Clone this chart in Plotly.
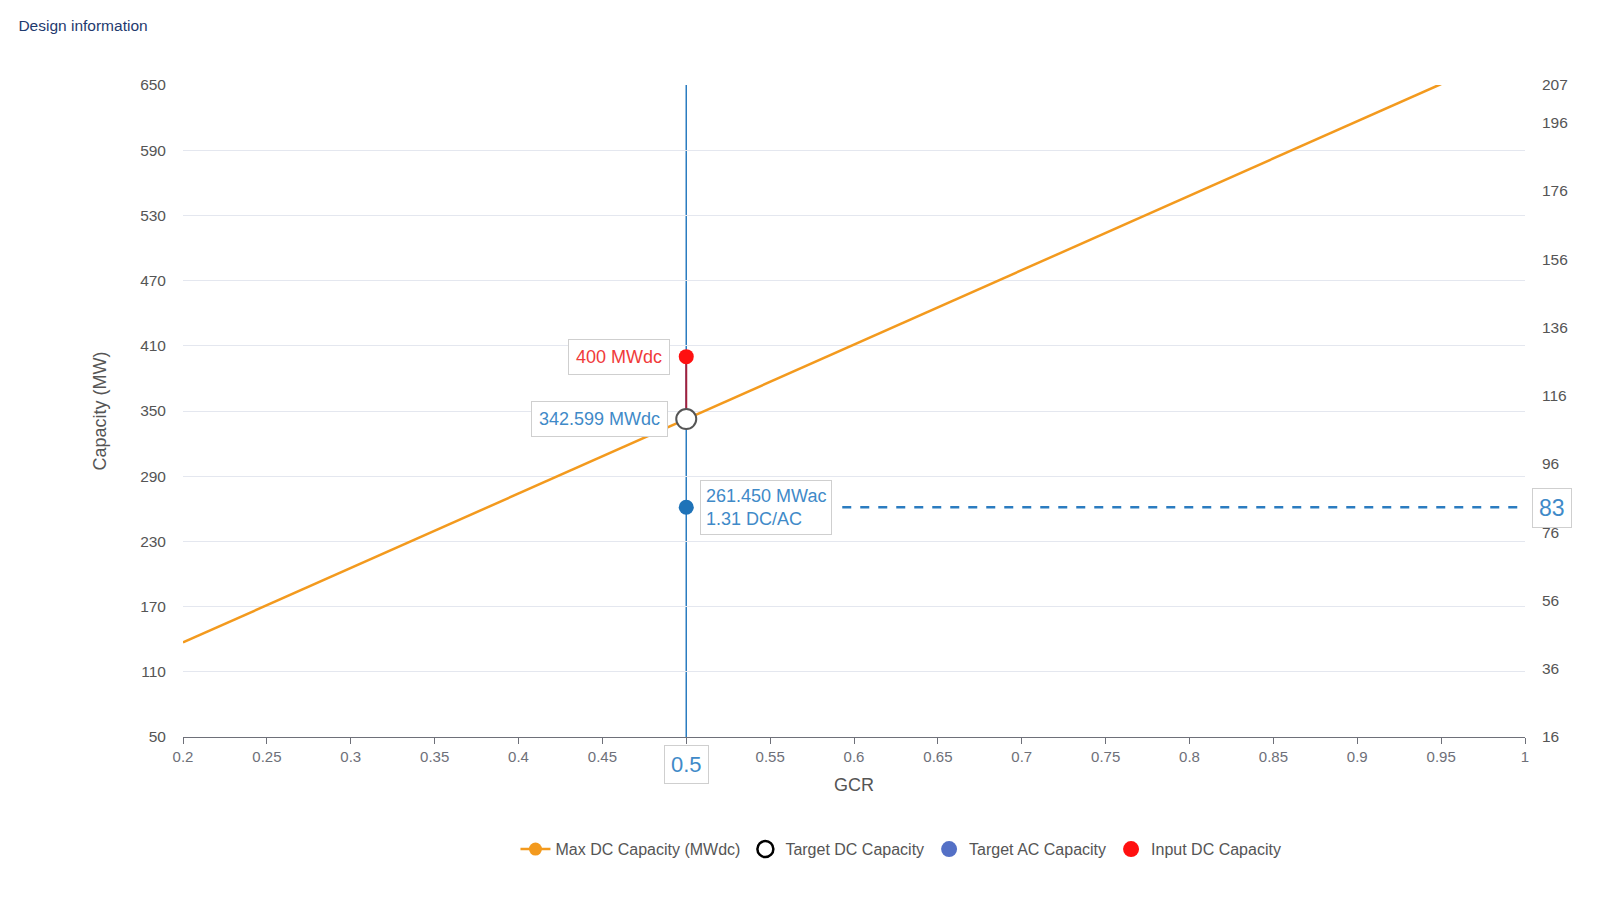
import plotly.graph_objects as go

# GCR sweep and the max DC capacity
gcr = [0.2, 0.3, 0.4, 0.5, 0.6, 0.7, 0.8, 0.9, 0.95]
max_dc = [137.0, 205.6, 274.1, 342.6, 411.1, 479.6, 548.2, 616.7, 650.9]

# design point
target_gcr = 0.5
input_dc = 400
target_dc = 342.599
target_ac = 261.450
dc_ac_ratio = 1.31
inverters = 83
dash_start = 0.593   # dashed guide starts just right of the AC label

left_ticks = [50, 110, 170, 230, 290, 350, 410, 470, 530, 590, 650]
right_ticks = [16, 36, 56, 76, 96, 116, 136, 156, 176, 196, 207]
x_ticks = [0.2, 0.25, 0.3, 0.35, 0.4, 0.45, 0.5, 0.55, 0.6, 0.65, 0.7,
           0.75, 0.8, 0.85, 0.9, 0.95, 1.0]
# 0.5 is drawn in its own highlighted box instead
x_ticktext = ["0.2", "0.25", "0.3", "0.35", "0.4", "0.45", "", "0.55", "0.6",
              "0.65", "0.7", "0.75", "0.8", "0.85", "0.9", "0.95", "1"]

ORANGE = "#f39a1e"
BLUE = "#2b7cc0"
TXT_BLUE = "#3f8ac8"
RED = "#ff1010"
AXIS = "#6e7079"
LABEL = "#555555"
FONT = "Liberation Sans"

fig = go.Figure()

fig.add_trace(go.Scatter(x=gcr, y=max_dc, mode="lines", line=dict(color=ORANGE, width=2.5),
                         showlegend=False, hoverinfo="skip"))

fig.add_trace(go.Scatter(x=[dash_start, 1.0], y=[target_ac, target_ac], mode="lines",
                         line=dict(color=BLUE, width=2.5, dash="dash"), showlegend=False))

# red connector from input DC to target DC
fig.add_trace(go.Scatter(x=[target_gcr, target_gcr], y=[input_dc, target_dc], mode="lines",
                         line=dict(color="#a3203c", width=2), showlegend=False))

fig.add_trace(go.Scatter(x=[target_gcr], y=[input_dc], mode="markers",
                         marker=dict(color=RED, size=15), showlegend=False))
fig.add_trace(go.Scatter(x=[target_gcr], y=[target_dc], mode="markers",
                         marker=dict(color="white", size=20, line=dict(color="#555555", width=2)),
                         showlegend=False))
fig.add_trace(go.Scatter(x=[target_gcr], y=[target_ac], mode="markers",
                         marker=dict(color="#1f73b8", size=15), showlegend=False))

# legend-only entries
fig.add_trace(go.Scatter(x=[None], y=[None], mode="lines+markers", name="Max DC Capacity (MWdc)",
                         line=dict(color=ORANGE, width=2.5), marker=dict(color=ORANGE, size=13)))
fig.add_trace(go.Scatter(x=[None], y=[None], mode="markers", name="Target DC Capacity",
                         marker=dict(color="white", size=17, line=dict(color="black", width=2.5))))
fig.add_trace(go.Scatter(x=[None], y=[None], mode="markers", name="Target AC Capacity",
                         marker=dict(color="#5470c6", size=17)))
fig.add_trace(go.Scatter(x=[None], y=[None], mode="markers", name="Input DC Capacity",
                         marker=dict(color=RED, size=17)))

# right axis carrier
fig.add_trace(go.Scatter(x=[None], y=[None], yaxis="y2", showlegend=False))

fig.add_shape(type="line", xref="x", yref="paper", x0=target_gcr, x1=target_gcr, y0=0, y1=1,
              line=dict(color=BLUE, width=1.5), layer="below")

box = dict(bgcolor="white", bordercolor="#cfcfcf", borderwidth=1, borderpad=7)
fig.add_annotation(x=target_gcr, y=input_dc, xref="x", yref="y", text=f"{input_dc} MWdc",
                   showarrow=False, xanchor="right", xshift=-16,
                   font=dict(color="#f03a3a", size=18, family=FONT), **box)
fig.add_annotation(x=target_gcr, y=target_dc, xref="x", yref="y", text=f"{target_dc:.3f} MWdc",
                   showarrow=False, xanchor="right", xshift=-18,
                   font=dict(color=TXT_BLUE, size=18, family=FONT), **box)
fig.add_annotation(x=target_gcr, y=target_ac, xref="x", yref="y",
                   text=f"{target_ac:.3f} MWac<br>{dc_ac_ratio:.2f} DC/AC", align="left",
                   showarrow=False, xanchor="left", xshift=14,
                   font=dict(color=TXT_BLUE, size=18, family=FONT),
                   bgcolor="white", bordercolor="#cfcfcf", borderwidth=1, borderpad=5)
fig.add_annotation(x=target_gcr, y=0, xref="x", yref="paper", text=f"{target_gcr}",
                   showarrow=False, yanchor="top", yshift=-8,
                   font=dict(color=TXT_BLUE, size=22, family=FONT),
                   bgcolor="white", bordercolor="#cfcfcf", borderwidth=1, borderpad=6)
fig.add_annotation(x=1, y=inverters, xref="paper", yref="y2", text=f"{inverters}",
                   showarrow=False, xanchor="left", xshift=7,
                   font=dict(color=TXT_BLUE, size=23, family=FONT),
                   bgcolor="white", bordercolor="#cfcfcf", borderwidth=1, borderpad=6)

fig.update_layout(
    width=1600, height=900,
    paper_bgcolor="white", plot_bgcolor="white",
    margin=dict(l=175, r=83, t=77, b=171),
    font=dict(family=FONT, color=AXIS, size=15),
    title=dict(text="Design information", x=0.0065, xanchor="left", y=1 - 17.5 / 900,
               yanchor="middle", font=dict(size=15.5, color="#1f3a6e", family=FONT)),
    xaxis=dict(range=[0.2, 1.0], tickvals=x_ticks, ticktext=x_ticktext, showgrid=False,
               zeroline=False, showline=True, linecolor=AXIS, linewidth=1,
               ticks="outside", ticklen=6, tickcolor=AXIS,
               tickfont=dict(size=15, color=AXIS),
               title=dict(text="GCR", font=dict(size=18, color=LABEL), standoff=14)),
    yaxis=dict(range=[50, 650], tickvals=left_ticks, showgrid=True, gridcolor="#e4e7ef",
               zeroline=False, showline=False, ticklabelstandoff=16,
               tickfont=dict(size=15.5, color=LABEL),
               title=dict(text="Capacity (MW)", font=dict(size=18, color=LABEL), standoff=28)),
    yaxis2=dict(range=[16, 207], tickvals=right_ticks, overlaying="y", side="right",
                showgrid=False, zeroline=False, showline=False, ticklabelstandoff=16,
                tickfont=dict(size=15.5, color=LABEL)),
    legend=dict(orientation="h", x=0.535, xanchor="center", y=-0.172, yanchor="middle",
                font=dict(size=16, color=LABEL, family=FONT), itemwidth=30),
)

fig.write_html("out.html")
